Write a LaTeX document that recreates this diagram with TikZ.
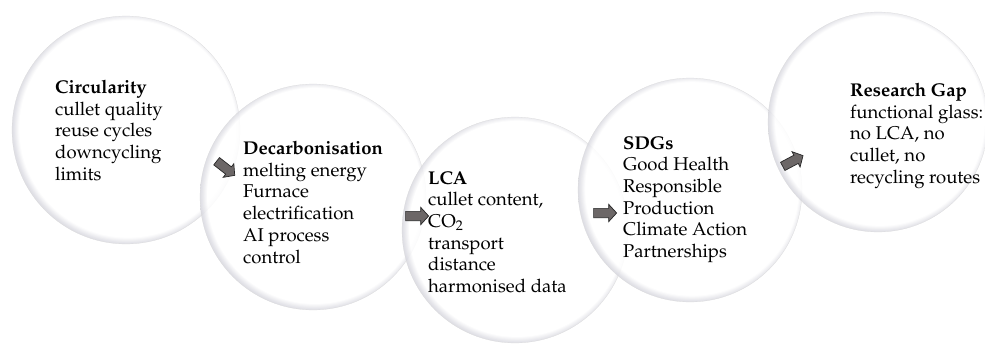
\documentclass[tikz,border=0pt]{standalone}
\usepackage[T1]{fontenc}
\usepackage{mathpazo}
\usetikzlibrary{shapes.arrows}

\definecolor{rimgrey}{RGB}{196,196,207}
\definecolor{arrowgrey}{RGB}{108,103,103}

% soft glass look for the bubbles: white core, grey rim (heavier bottom left)
\pgfdeclareradialshading{glassball}{\pgfpoint{0.65bp}{0.65bp}}{%
	color(0bp)=(white); color(23.8bp)=(white); color(25bp)=(rimgrey!55);
	color(26.4bp)=(rimgrey); color(50bp)=(rimgrey)}

\begin{document}
\begin{tikzpicture}[x=1pt,y=-1pt]
					\tikzstyle{bubble} = [
						circle,
						shading=glassball,
						fill opacity=0.85,
						draw=gray!30,
						very thin,
						inner sep=0pt
					]
					\tikzstyle{words} = [
						anchor=north west,
						inner sep=0pt,
						align=left,
						font=\fontsize{18.5}{21.7}\selectfont
					]
					\tikzstyle{pointer} = [
						single arrow,
						fill=arrowgrey,
						draw=black!85,
						line width=0.7pt,
						inner xsep=0pt,
						inner ysep=4.3pt,
						minimum height=23pt,
						single arrow head extend=4pt,
						single arrow tip angle=95
					]

					\useasboundingbox (0,0) rectangle (985,345);

					\node (circ) [style=bubble, minimum size=228pt] at (126,130) {};
					\node (decarb) [style=bubble, minimum size=226pt] at (313,197) {};
					\node (lca) [style=bubble, minimum size=226pt] at (515,230) {};
					\node (sdg) [style=bubble, minimum size=224pt] at (690,190) {};
					\node (gap) [style=bubble, minimum size=220pt] at (878,122) {};

					\node (circtext) [style=words] at (55,80) {\textbf{Circularity}\\cullet quality\\reuse cycles\\downcycling\\limits};
					\node (decarbtext) [style=words] at (243,141) {\textbf{Decarbonisation}\\melting energy\\Furnace\\electrification\\AI process\\control};
					\node (lcatext) [style=words] at (428,171) {\textbf{LCA}\\cullet content,\\CO$_2$\\transport\\distance\\harmonised data};
					\node (sdgtext) [style=words] at (623,136) {\textbf{SDGs}\\Good Health\\Responsible\\Production\\Climate Action\\Partnerships};
					\node (gaptext) [style=words] at (850,83) {\textbf{Research Gap}\\functional glass:\\no LCA, no\\cullet, no\\recycling routes};

					\node (arr1) [style=pointer, rotate=-38] at (224,167) {};
					\node (arr2) [style=pointer] at (415,216) {};
					\node (arr3) [style=pointer] at (603,213) {};
					\node (arr4) [style=pointer, rotate=28] at (791,162) {};

				\end{tikzpicture}
\end{document}
